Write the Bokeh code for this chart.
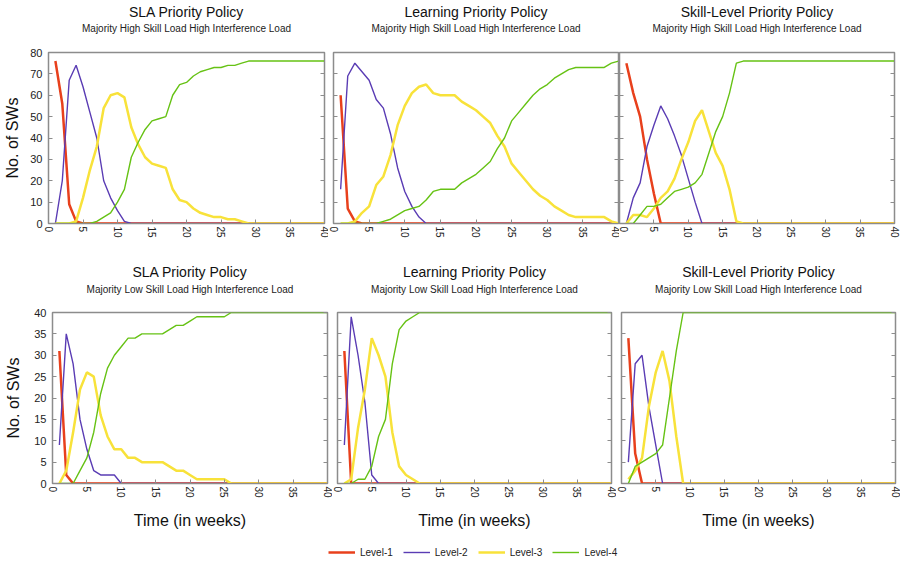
import math
from bokeh.plotting import figure
from bokeh.layouts import column, row
from bokeh.models import (Range1d, LinearAxis, Title, Legend, LegendItem, FixedTicker,
                          CustomLabelingPolicy)
from bokeh.embed import file_html
from bokeh.resources import INLINE

# ---------------- data ----------------
weeks = [1, 2, 3, 4, 5, 6, 7, 8, 9, 10, 11, 12, 13, 14, 15, 16, 17, 18, 19, 20,
         21, 22, 23, 24, 25, 26, 27, 28, 29, 30, 31, 32, 33, 34, 35, 36, 37, 38, 39, 40]

level_names = ["Level-1", "Level-2", "Level-3", "Level-4"]
x_ticks = [0, 5, 10, 15, 20, 25, 30, 35, 40]
y_ticks_high = [0, 10, 20, 30, 40, 50, 60, 70, 80]
y_ticks_low = [0, 5, 10, 15, 20, 25, 30, 35, 40]

policy_titles = ["SLA Priority Policy", "Learning Priority Policy", "Skill-Level Priority Policy"]
subtitle_high = "Majority High Skill Load High Interference Load"
subtitle_low = "Majority Low Skill Load High Interference Load"

# Majority High Skill Load
sla_high_l1 = [76, 56, 9, 1, 0, 0, 0, 0, 0, 0, 0, 0, 0, 0, 0, 0, 0, 0, 0, 0,
               0, 0, 0, 0, 0, 0, 0, 0, 0, 0, 0, 0, 0, 0, 0, 0, 0, 0, 0, 0]
sla_high_l2 = [0, 20, 67, 74, 64, 52, 40, 20, 12, 6, 1, 0, 0, 0, 0, 0, 0, 0, 0, 0,
               0, 0, 0, 0, 0, 0, 0, 0, 0, 0, 0, 0, 0, 0, 0, 0, 0, 0, 0, 0]
sla_high_l3 = [0, 0, 0, 1, 12, 25, 36, 54, 60, 61, 59, 45, 37, 31, 28, 27, 26, 16, 11, 10,
               7, 5, 4, 3, 3, 2, 2, 1, 0, 0, 0, 0, 0, 0, 0, 0, 0, 0, 0, 0]
sla_high_l4 = [0, 0, 0, 0, 0, 0, 1, 3, 5, 10, 16, 31, 38, 44, 48, 49, 50, 60, 65, 66,
               69, 71, 72, 73, 73, 74, 74, 75, 76, 76, 76, 76, 76, 76, 76, 76, 76, 76, 76, 76]

learn_high_l1 = [60, 7, 1, 0, 0, 0, 0, 0, 0, 0, 0, 0, 0, 0, 0, 0, 0, 0, 0, 0,
                 0, 0, 0, 0, 0, 0, 0, 0, 0, 0, 0, 0, 0, 0, 0, 0, 0, 0, 0, 0]
learn_high_l2 = [16, 69, 75, 71, 67, 58, 54, 42, 26, 15, 8, 3, 0, 0, 0, 0, 0, 0, 0, 0,
                 0, 0, 0, 0, 0, 0, 0, 0, 0, 0, 0, 0, 0, 0, 0, 0, 0, 0, 0, 0]
learn_high_l3 = [0, 0, 1, 5, 8, 18, 22, 32, 46, 55, 61, 64, 65, 61, 60, 60, 60, 57, 55, 53,
                 50, 47, 41, 36, 28, 24, 20, 16, 13, 11, 8, 6, 4, 3, 3, 3, 3, 3, 1, 0]
learn_high_l4 = [0, 0, 0, 0, 0, 0, 1, 2, 4, 6, 7, 8, 11, 15, 16, 16, 16, 19, 21, 23,
                 26, 29, 35, 40, 48, 52, 56, 60, 63, 65, 68, 70, 72, 73, 73, 73, 73, 73, 75, 76]

skill_high_l1 = [75, 61, 50, 30, 14, 0, 0, 0, 0, 0, 0, 0, 0, 0, 0, 0, 0, 0, 0, 0,
                 0, 0, 0, 0, 0, 0, 0, 0, 0, 0, 0, 0, 0, 0, 0, 0, 0, 0, 0, 0]
skill_high_l2 = [0, 12, 19, 36, 46, 55, 49, 41, 32, 21, 10, 0, 0, 0, 0, 0, 0, 0, 0, 0,
                 0, 0, 0, 0, 0, 0, 0, 0, 0, 0, 0, 0, 0, 0, 0, 0, 0, 0, 0, 0]
skill_high_l3 = [0, 4, 4, 3, 7, 12, 15, 21, 30, 38, 48, 53, 43, 33, 27, 16, 1, 0, 0, 0,
                 0, 0, 0, 0, 0, 0, 0, 0, 0, 0, 0, 0, 0, 0, 0, 0, 0, 0, 0, 0]
skill_high_l4 = [0, 0, 4, 8, 8, 9, 12, 15, 16, 17, 19, 23, 33, 43, 50, 61, 75, 76, 76, 76,
                 76, 76, 76, 76, 76, 76, 76, 76, 76, 76, 76, 76, 76, 76, 76, 76, 76, 76, 76, 76]

# Majority Low Skill Load
sla_low_l1 = [31, 2, 0, 0, 0, 0, 0, 0, 0, 0, 0, 0, 0, 0, 0, 0, 0, 0, 0, 0,
              0, 0, 0, 0, 0, 0, 0, 0, 0, 0, 0, 0, 0, 0, 0, 0, 0, 0, 0, 0]
sla_low_l2 = [9, 35, 28, 15, 8, 3, 2, 2, 2, 0, 0, 0, 0, 0, 0, 0, 0, 0, 0, 0,
              0, 0, 0, 0, 0, 0, 0, 0, 0, 0, 0, 0, 0, 0, 0, 0, 0, 0, 0, 0]
sla_low_l3 = [0, 3, 12, 22, 26, 25, 16, 11, 8, 8, 6, 6, 5, 5, 5, 5, 4, 3, 3, 2,
              1, 1, 1, 1, 1, 0, 0, 0, 0, 0, 0, 0, 0, 0, 0, 0, 0, 0, 0, 0]
sla_low_l4 = [0, 0, 0, 3, 6, 12, 21, 27, 30, 32, 34, 34, 35, 35, 35, 35, 36, 37, 37, 38,
              39, 39, 39, 39, 39, 40, 40, 40, 40, 40, 40, 40, 40, 40, 40, 40, 40, 40, 40, 40]

learn_low_l1 = [31, 0, 0, 0, 0, 0, 0, 0, 0, 0, 0, 0, 0, 0, 0, 0, 0, 0, 0, 0,
                0, 0, 0, 0, 0, 0, 0, 0, 0, 0, 0, 0, 0, 0, 0, 0, 0, 0, 0, 0]
learn_low_l2 = [9, 39, 30, 19, 2, 0, 0, 0, 0, 0, 0, 0, 0, 0, 0, 0, 0, 0, 0, 0,
                0, 0, 0, 0, 0, 0, 0, 0, 0, 0, 0, 0, 0, 0, 0, 0, 0, 0, 0, 0]
learn_low_l3 = [0, 1, 13, 22, 34, 30, 25, 12, 4, 2, 1, 0, 0, 0, 0, 0, 0, 0, 0, 0,
                0, 0, 0, 0, 0, 0, 0, 0, 0, 0, 0, 0, 0, 0, 0, 0, 0, 0, 0, 0]
learn_low_l4 = [0, 0, 1, 1, 4, 11, 15, 28, 36, 38, 39, 40, 40, 40, 40, 40, 40, 40, 40, 40,
                40, 40, 40, 40, 40, 40, 40, 40, 40, 40, 40, 40, 40, 40, 40, 40, 40, 40, 40, 40]

skill_low_l1 = [34, 7, 0, 0, 0, 0, 0, 0, 0, 0, 0, 0, 0, 0, 0, 0, 0, 0, 0, 0,
                0, 0, 0, 0, 0, 0, 0, 0, 0, 0, 0, 0, 0, 0, 0, 0, 0, 0, 0, 0]
skill_low_l2 = [5, 28, 30, 18, 9, 0, 0, 0, 0, 0, 0, 0, 0, 0, 0, 0, 0, 0, 0, 0,
                0, 0, 0, 0, 0, 0, 0, 0, 0, 0, 0, 0, 0, 0, 0, 0, 0, 0, 0, 0]
skill_low_l3 = [1, 3, 6, 18, 26, 31, 24, 11, 0, 0, 0, 0, 0, 0, 0, 0, 0, 0, 0, 0,
                0, 0, 0, 0, 0, 0, 0, 0, 0, 0, 0, 0, 0, 0, 0, 0, 0, 0, 0, 0]
skill_low_l4 = [0, 4, 5, 6, 7, 9, 20, 31, 40, 40, 40, 40, 40, 40, 40, 40, 40, 40, 40, 40,
                40, 40, 40, 40, 40, 40, 40, 40, 40, 40, 40, 40, 40, 40, 40, 40, 40, 40, 40, 40]

# ---------------- styling ----------------
COLORS = ["#e8401c", "#5a3cb4", "#f8e23a", "#66c214"]
WIDTHS = [2.5, 1.4, 2.5, 1.4]
FRAME = "#8c8c8c"
FONT = "Liberation Sans"

NO_LABELS = "for (const i of indices) { if (i < 0) { yield i } }"


def hide_labels(axis):
    axis.major_label_policy = CustomLabelingPolicy(code=NO_LABELS)
    axis.major_label_text_font_size = "0px"
    axis.major_label_standoff = 0


def make_panel(series, title, subtitle, y_max, y_ticks, show_ylabel, show_xlabel,
               frame_w, frame_h, b_left, b_right, b_top, b_bottom, sub_gap, title_gap,
               ylabel_gap):
    p = figure(frame_width=frame_w, frame_height=frame_h,
               x_range=Range1d(0, 40), y_range=Range1d(0, y_max),
               output_backend="svg", toolbar_location=None,
               min_border_left=b_left, min_border_right=b_right,
               min_border_top=b_top, min_border_bottom=b_bottom)
    p.title.text = title
    p.title.align = "center"
    p.title.text_font = FONT
    p.title.text_font_size = "14px"
    p.title.text_font_style = "normal"
    p.title.text_color = "#111111"
    p.title.standoff = title_gap
    p.add_layout(Title(text=subtitle, align="center", text_font=FONT, text_font_size="10px",
                       text_font_style="normal", text_color="#222222", standoff=sub_gap), "above")

    p.xgrid.visible = False
    p.ygrid.visible = False
    p.outline_line_color = FRAME
    p.outline_line_width = 1.5
    p.background_fill_color = "white"
    p.border_fill_color = "white"

    xa = p.xaxis[0]
    xa.ticker = FixedTicker(ticks=x_ticks)
    xa.major_label_orientation = -math.pi / 2
    xa.major_label_text_font = FONT
    xa.major_label_text_font_size = "10px"
    xa.major_label_text_color = "#222222"
    xa.major_label_standoff = 3
    xa.major_tick_in = 4
    xa.major_tick_out = 0
    xa.minor_tick_line_color = None
    xa.axis_line_color = FRAME
    xa.major_tick_line_color = FRAME
    if show_xlabel:
        xa.axis_label = "Time (in weeks)"
        xa.axis_label_text_font = FONT
        xa.axis_label_text_font_size = "16px"
        xa.axis_label_text_font_style = "normal"
        xa.axis_label_text_color = "#111111"
        xa.axis_label_standoff = 11

    ya = p.yaxis[0]
    ya.ticker = FixedTicker(ticks=y_ticks)
    ya.major_tick_in = 4
    ya.major_tick_out = 0
    ya.minor_tick_line_color = None
    ya.axis_line_color = FRAME
    ya.major_tick_line_color = FRAME
    if show_ylabel:
        ya.major_label_text_font = FONT
        ya.major_label_text_font_size = "11px"
        ya.major_label_text_color = "#222222"
        ya.major_label_standoff = 6
        ya.axis_label = "No. of SWs"
        ya.axis_label_text_font = FONT
        ya.axis_label_text_font_size = "16px"
        ya.axis_label_text_font_style = "normal"
        ya.axis_label_text_color = "#111111"
        ya.axis_label_standoff = ylabel_gap
    else:
        hide_labels(ya)

    ra = LinearAxis(ticker=FixedTicker(ticks=y_ticks), major_tick_in=4, major_tick_out=0,
                    minor_tick_line_color=None, axis_line_color=FRAME,
                    major_tick_line_color=FRAME)
    hide_labels(ra)
    p.add_layout(ra, "right")

    for vals, c, w in zip(series, COLORS, WIDTHS):
        p.line(weeks, vals, line_color=c, line_width=w)
    return p


top_specs = [
    ([sla_high_l1, sla_high_l2, sla_high_l3, sla_high_l4], True, 276, 48, 4),
    ([learn_high_l1, learn_high_l2, learn_high_l3, learn_high_l4], False, 285, 5, 1),
    ([skill_high_l1, skill_high_l2, skill_high_l3, skill_high_l4], False, 275, 0, 6),
]
bottom_specs = [
    ([sla_low_l1, sla_low_l2, sla_low_l3, sla_low_l4], True, 275, 52, 5),
    ([learn_low_l1, learn_low_l2, learn_low_l3, learn_low_l4], False, 274, 5, 5),
    ([skill_low_l1, skill_low_l2, skill_low_l3, skill_low_l4], False, 274, 5, 5),
]

top_figs = []
for (series, ylab, fw, bl, br), t in zip(top_specs, policy_titles):
    top_figs.append(make_panel(series, t, subtitle_high, 80, y_ticks_high, ylab, False,
                               fw, 171, bl, br, 52, 35, 38, -37, 6))
bottom_figs = []
for (series, ylab, fw, bl, br), t in zip(bottom_specs, policy_titles):
    bottom_figs.append(make_panel(series, t, subtitle_low, 40, y_ticks_low, ylab, True,
                                  fw, 171, bl, br, 54, 50, 36, -33, 9))

# legend strip (its sample lines lie outside the visible range)
lg = figure(width=900, height=30, x_range=Range1d(-10, -9), y_range=Range1d(-10, -9),
            output_backend="svg", toolbar_location=None,
            min_border_left=0, min_border_right=0, min_border_top=0, min_border_bottom=0)
lg.axis.visible = False
lg.xgrid.visible = False
lg.ygrid.visible = False
lg.outline_line_color = None
items = []
for name, vals, c, w in zip(level_names, [sla_high_l1, sla_high_l2, sla_high_l3, sla_high_l4],
                            COLORS, WIDTHS):
    r = lg.line(weeks, vals, line_color=c, line_width=w)
    items.append(LegendItem(label=name, renderers=[r]))
legend = Legend(items=items, orientation="horizontal", location=(328, 5),
                label_text_font=FONT, label_text_font_size="10px", label_text_color="#222222",
                glyph_width=27, glyph_height=12, label_standoff=5, spacing=10,
                padding=2, margin=0, border_line_color=None, background_fill_alpha=0)
lg.add_layout(legend, "center")

layout = column(row(*top_figs), row(*bottom_figs), lg)

open("out.html", "w").write(file_html(layout, INLINE))
